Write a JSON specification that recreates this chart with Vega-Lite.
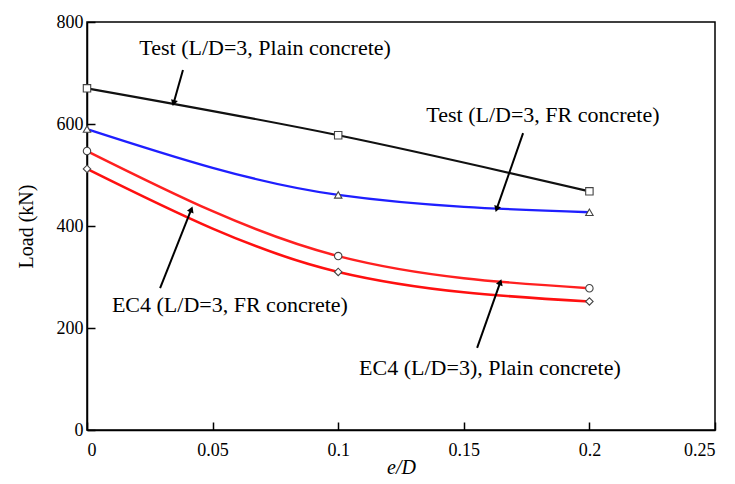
{
  "$schema": "https://vega.github.io/schema/vega-lite/v6.json",
  "width": 628,
  "height": 408,
  "autosize": {"type": "none"},
  "padding": {"left": 87, "top": 22, "right": 20, "bottom": 54},
  "background": "white",
  "config": {
    "view": {"stroke": "black", "strokeWidth": 1.5},
    "font": "Times New Roman, Liberation Serif, serif",
    "axis": {
      "grid": false,
      "domainColor": "black",
      "domainWidth": 1.5,
      "tickColor": "black",
      "tickWidth": 1.5,
      "tickSize": -8,
      "labelColor": "black",
      "labelFont": "Times New Roman, Liberation Serif, serif",
      "labelFontSize": 18,
      "titleFont": "Times New Roman, Liberation Serif, serif",
      "titleFontSize": 20,
      "titleFontWeight": "normal",
      "titleColor": "black"
    }
  },
  "datasets": {
    "curves": [
      {"series": "Test plain", "e": 0, "load": 670},
      {"series": "Test plain", "e": 0.1, "load": 578},
      {"series": "Test plain", "e": 0.2, "load": 468},
      {"series": "Test FR", "e": 0, "load": 590},
      {"series": "Test FR", "e": 0.1, "load": 461},
      {"series": "Test FR", "e": 0.2, "load": 427},
      {"series": "EC4 circle", "e": 0, "load": 547},
      {"series": "EC4 circle", "e": 0.1, "load": 341},
      {"series": "EC4 circle", "e": 0.2, "load": 278},
      {"series": "EC4 diamond", "e": 0, "load": 512},
      {"series": "EC4 diamond", "e": 0.1, "load": 310},
      {"series": "EC4 diamond", "e": 0.2, "load": 252}
    ],
    "arrows": [
      {"arrow": "a1", "e": 0.0382, "load": 706},
      {"arrow": "a1", "e": 0.0346, "load": 643},
      {"arrow": "a2", "e": 0.1736, "load": 582},
      {"arrow": "a2", "e": 0.1632, "load": 435},
      {"arrow": "a3", "e": 0.0291, "load": 278},
      {"arrow": "a3", "e": 0.0414, "load": 431},
      {"arrow": "a4", "e": 0.1553, "load": 161},
      {"arrow": "a4", "e": 0.1644, "load": 288}
    ],
    "tips": [
      {"arrow": "a1", "e": 0.0346, "load": 643},
      {"arrow": "a2", "e": 0.1632, "load": 435},
      {"arrow": "a3", "e": 0.0414, "load": 431},
      {"arrow": "a4", "e": 0.1644, "load": 288}
    ],
    "labels": [
      {"text": "Test (L/D=3, Plain concrete)", "e": 0.0709, "load": 749},
      {"text": "Test (L/D=3, FR concrete)", "e": 0.1815, "load": 618},
      {"text": "EC4 (L/D=3, FR concrete)", "e": 0.0569, "load": 245},
      {"text": "EC4 (L/D=3), Plain concrete)", "e": 0.1604, "load": 122}
    ]
  },
  "layer": [
    {
      "data": {"name": "curves"},
      "mark": {"type": "line", "interpolate": "monotone"},
      "encoding": {
        "x": {"field": "e", "type": "quantitative", "scale": {"domain": [0, 0.25], "nice": false},
              "axis": {"values": [0, 0.05, 0.1, 0.15, 0.2, 0.25], "format": "~g", "title": "e/D", "titleFontStyle": "italic", "labelPadding": 19, "titlePadding": -2}},
        "y": {"field": "load", "type": "quantitative", "scale": {"domain": [0, 800], "nice": false},
              "axis": {"values": [0, 200, 400, 600, 800], "title": "Load (kN)", "labelPadding": 12, "titlePadding": 20}},
        "color": {"field": "series", "type": "nominal", "legend": null,
                  "scale": {"domain": ["Test plain", "Test FR", "EC4 circle", "EC4 diamond"], "range": ["#111111", "#1f1fff", "#ff2020", "#ff1010"]}},
        "strokeWidth": {"field": "series", "type": "nominal", "legend": null,
                  "scale": {"domain": ["Test plain", "Test FR", "EC4 circle", "EC4 diamond"], "range": [2.2, 2.6, 1.6, 3.2]}},
        "detail": {"field": "series"}
      }
    },
    {
      "data": {"name": "curves"},
      "mark": {"type": "point", "filled": false, "fill": "white", "fillOpacity": 1, "stroke": "#444444", "strokeWidth": 1.1, "size": 55, "opacity": 1},
      "encoding": {
        "x": {"field": "e", "type": "quantitative"},
        "y": {"field": "load", "type": "quantitative"},
        "shape": {"field": "series", "type": "nominal", "legend": null,
                  "scale": {"domain": ["Test plain", "Test FR", "EC4 circle", "EC4 diamond"], "range": ["square", "triangle-up", "circle", "diamond"]}}
      }
    },
    {
      "data": {"name": "arrows"},
      "mark": {"type": "line", "color": "black", "strokeWidth": 2},
      "encoding": {
        "x": {"field": "e", "type": "quantitative"},
        "y": {"field": "load", "type": "quantitative"},
        "detail": {"field": "arrow"}
      }
    },
    {
      "data": {"name": "tips"},
      "transform": [{"filter": "datum.arrow == 'a1'"}],
      "mark": {"type": "point", "shape": "triangle", "filled": true, "color": "black", "size": 50, "angle": 196, "opacity": 1},
      "encoding": {"x": {"field": "e", "type": "quantitative"}, "y": {"field": "load", "type": "quantitative"}}
    },
    {
      "data": {"name": "tips"},
      "transform": [{"filter": "datum.arrow == 'a2'"}],
      "mark": {"type": "point", "shape": "triangle", "filled": true, "color": "black", "size": 50, "angle": 199, "opacity": 1},
      "encoding": {"x": {"field": "e", "type": "quantitative"}, "y": {"field": "load", "type": "quantitative"}}
    },
    {
      "data": {"name": "tips"},
      "transform": [{"filter": "datum.arrow == 'a3'"}],
      "mark": {"type": "point", "shape": "triangle", "filled": true, "color": "black", "size": 50, "angle": 22, "opacity": 1},
      "encoding": {"x": {"field": "e", "type": "quantitative"}, "y": {"field": "load", "type": "quantitative"}}
    },
    {
      "data": {"name": "tips"},
      "transform": [{"filter": "datum.arrow == 'a4'"}],
      "mark": {"type": "point", "shape": "triangle", "filled": true, "color": "black", "size": 50, "angle": 20, "opacity": 1},
      "encoding": {"x": {"field": "e", "type": "quantitative"}, "y": {"field": "load", "type": "quantitative"}}
    },
    {
      "data": {"name": "labels"},
      "mark": {"type": "text", "font": "Times New Roman, Liberation Serif, serif", "fontSize": 22, "color": "black", "align": "center", "baseline": "middle"},
      "encoding": {
        "x": {"field": "e", "type": "quantitative"},
        "y": {"field": "load", "type": "quantitative"},
        "text": {"field": "text"}
      }
    }
  ]
}
